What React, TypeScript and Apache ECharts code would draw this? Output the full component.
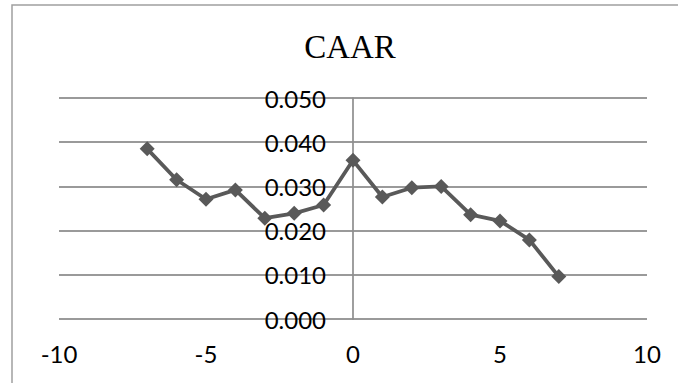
import React, { useEffect, useRef } from "react";
import * as echarts from "echarts";

const titleText = "CAAR";
const xValues = [-7, -6, -5, -4, -3, -2, -1, 0, 1, 2, 3, 4, 5, 6, 7];
const caar = [0.0385, 0.0315, 0.0271, 0.0292, 0.0228, 0.0239, 0.0258, 0.0359, 0.0276, 0.0297, 0.03, 0.0236, 0.0222, 0.0179, 0.0096];
const xTicks = { min: -10, max: 10, interval: 5 };
const yTicks = { min: 0, max: 0.05, interval: 0.01 };

export default function App() {
  const ref = useRef<HTMLDivElement>(null);
  useEffect(() => {
    if (!ref.current) return;
    const chart = echarts.init(ref.current, null, { renderer: "svg" });
    const labelFont = "Lato";
    const gridLeft = 59;
    const gridRight = 31;
    const plotWidth = 678 - gridLeft - gridRight;
    const zeroOffset = ((0 - xTicks.min) / (xTicks.max - xTicks.min)) * plotWidth;
    chart.setOption({
      animation: false,
      backgroundColor: "#ffffff",
      graphic: [
        {
          type: "rect",
          shape: { x: 12, y: 5, width: 700, height: 420 },
          style: { fill: "none", stroke: "#a0a0a0", lineWidth: 1.5 },
          silent: true,
        },
        {
          type: "text",
          x: 350,
          y: 47,
          style: {
            text: titleText,
            font: "33px 'Liberation Serif'",
            fill: "#000000",
            align: "center",
            verticalAlign: "middle",
          },
        },
      ],
      grid: {
        left: gridLeft,
        right: gridRight,
        top: 98,
        bottom: 64,
        containLabel: false,
        outerBoundsMode: "none",
      },
      xAxis: {
        type: "value",
        min: xTicks.min,
        max: xTicks.max,
        interval: xTicks.interval,
        axisLine: { show: false },
        axisTick: { show: false },
        splitLine: { show: false },
        axisLabel: {
          margin: 22,
          fontFamily: labelFont,
          fontSize: 24,
          color: "#000000",
        },
      },
      yAxis: {
        type: "value",
        position: "left",
        offset: -zeroOffset,
        min: yTicks.min,
        max: yTicks.max,
        interval: yTicks.interval,
        axisLine: { show: true, onZero: false, lineStyle: { color: "#8e8e8e", width: 1.7 } },
        axisTick: { show: false },
        splitLine: { show: true, lineStyle: { color: "#9a9a9a", width: 2 } },
        axisLabel: {
          margin: 27,
          fontFamily: labelFont,
          fontSize: 24,
          color: "#000000",
          formatter: (v: number) => v.toFixed(3),
        },
      },
      series: [
        {
          type: "line",
          data: xValues.map((x, i) => [x, caar[i]]),
          symbol: "diamond",
          symbolSize: 15,
          lineStyle: { color: "#595959", width: 3.8 },
          itemStyle: { color: "#595959" },
          z: 5,
        },
      ],
    });
    return () => chart.dispose();
  }, []);
  return (
    <div
      ref={ref}
      style={{ position: "fixed", left: 0, top: 0, width: 678, height: 383, background: "#fff" }}
    />
  );
}
